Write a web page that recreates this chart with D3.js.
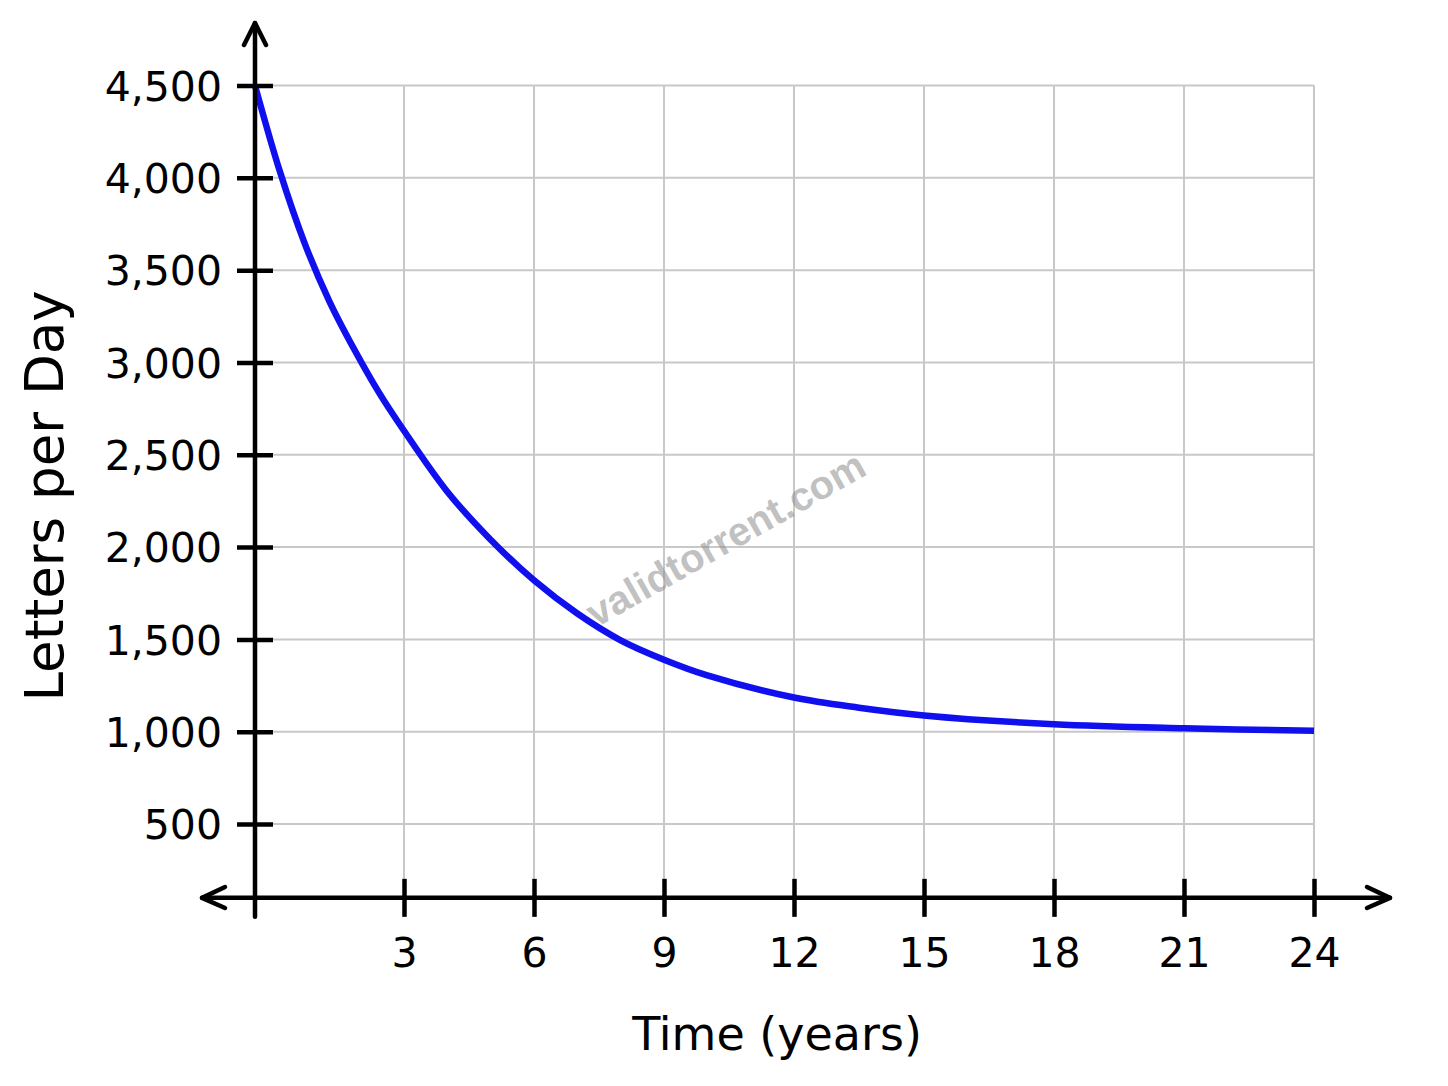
<!DOCTYPE html>
<html>
<head>
<meta charset="utf-8"/>
<title>Letters per Day</title>
<style>
  html, body { margin: 0; padding: 0; background: #fff; }
  svg { display: block; font-family: "DejaVu Sans", sans-serif; }
</style>
<script src="https://cdn.jsdelivr.net/npm/d3@7"></script>
</head>
<body>
<svg id="chart" width="1448" height="1086"></svg>
<script>
// values
var years   = [0, 0.5, 1, 1.5, 2, 2.5, 3, 4, 5, 6, 7, 8, 9, 10, 12, 13.5, 15, 18, 21, 24];
var letters = [4500, 4035, 3645, 3330, 3070, 2835, 2630, 2300, 2040, 1820, 1640, 1495, 1390, 1305, 1185, 1130, 1088, 1040, 1018, 1005];
var xTicks = [3, 6, 9, 12, 15, 18, 21, 24];
var yTicks = [500, 1000, 1500, 2000, 2500, 3000, 3500, 4000, 4500];
var yFloor = 100;

var svg = d3.select("#chart");

// first step (0 -> 3) is drawn wider than the rest in the original
var x = d3.scaleLinear().domain([0, 3, 24]).range([255, 404, 1314]);
var y = d3.scaleLinear().domain([500, 4500]).range([824, 85.5]);
var x0 = x(0), y0 = y(yFloor);

// grid
var grid = svg.append("g").attr("stroke", "#c8c8c8").attr("stroke-width", 2);
grid.selectAll("line.v").data(xTicks).enter().append("line")
    .attr("x1", function(d){ return x(d); }).attr("x2", function(d){ return x(d); })
    .attr("y1", y(4500)).attr("y2", y0);
grid.selectAll("line.h").data(yTicks).enter().append("line")
    .attr("x1", x0).attr("x2", x(24))
    .attr("y1", function(d){ return y(d); }).attr("y2", function(d){ return y(d); });

// watermark
svg.append("text")
    .attr("transform", "translate(596,628) rotate(-29.5)")
    .attr("font-family", "Liberation Sans, Arial, sans-serif")
    .attr("font-weight", "bold").attr("font-size", 40)
    .attr("fill", "rgba(140,140,140,0.55)")
    .text("validtorrent.com");

// curve
var line = d3.line()
    .x(function(d, i){ return x(years[i]); })
    .y(function(d){ return y(d); })
    .curve(d3.curveCatmullRom.alpha(0.5));
svg.append("path").datum(letters)
    .attr("d", line)
    .attr("fill", "none").attr("stroke", "#1010ee")
    .attr("stroke-width", 6.5);

// axes
var ax = svg.append("g").attr("stroke", "#000").attr("stroke-width", 4.5).attr("fill", "none")
    .attr("stroke-linecap", "round").attr("stroke-linejoin", "round");
ax.append("line").attr("x1", 202).attr("x2", 1390).attr("y1", y0).attr("y2", y0);
ax.append("line").attr("x1", x0).attr("x2", x0).attr("y1", 23).attr("y2", y0 + 19);
ax.append("path").attr("d", "M225,887 L202," + y0 + " L225,908");
ax.append("path").attr("d", "M1367,887 L1390," + y0 + " L1367,908");
ax.append("path").attr("d", "M244,45 L" + x0 + ",23 L266,45");

var xAxis = svg.append("g").attr("transform", "translate(0," + y0 + ")")
    .call(d3.axisBottom(x).tickValues(xTicks).tickSize(19).tickSizeOuter(0));
xAxis.select(".domain").remove();
xAxis.selectAll(".tick line").attr("y1", -19).attr("stroke-width", 4.5);
xAxis.selectAll(".tick text").attr("y", 69).attr("dy", 0)
    .attr("font-size", 41).attr("font-family", "DejaVu Sans, sans-serif").attr("fill", "#000");

var yAxis = svg.append("g").attr("transform", "translate(" + x0 + ",0)")
    .call(d3.axisLeft(y).tickValues(yTicks).tickSize(18).tickSizeOuter(0)
        .tickFormat(d3.format(",")));
yAxis.select(".domain").remove();
yAxis.selectAll(".tick line").attr("x1", 18).attr("stroke-width", 4.5);
yAxis.selectAll(".tick text").attr("x", -33).attr("dy", "0.36em")
    .attr("font-size", 41).attr("font-family", "DejaVu Sans, sans-serif").attr("fill", "#000");

// titles
svg.append("text").attr("x", 777).attr("y", 1050).attr("text-anchor", "middle")
    .attr("font-size", 46).text("Time (years)");
svg.append("text").attr("transform", "translate(63,496) rotate(-90)")
    .attr("text-anchor", "middle").attr("font-size", 53).text("Letters per Day");
</script>
</body>
</html>
